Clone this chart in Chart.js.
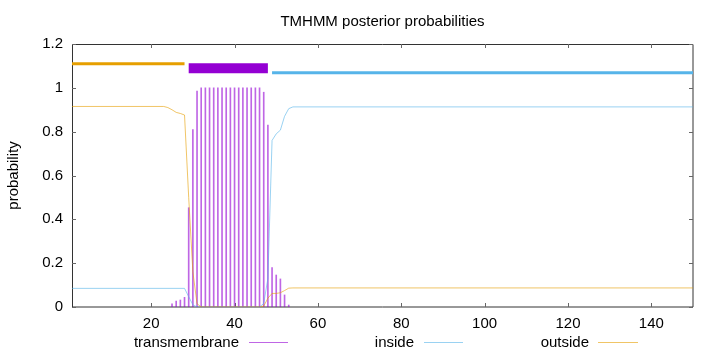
<!DOCTYPE html>
<html><head><meta charset="utf-8">
<script src="https://cdn.jsdelivr.net/npm/chart.js@4"></script>
<style>html,body{margin:0;padding:0;background:#fff}canvas{display:block}</style>
</head><body>
<canvas id="c" width="720" height="352"></canvas>
<script>
const chartTitle = 'TMHMM posterior probabilities';
const yAxisTitle = 'probability';
const xTickValues = [20, 40, 60, 80, 100, 120, 140];
const yTickValues = [0, 0.2, 0.4, 0.6, 0.8, 1, 1.2];
const yTickLabels = ['0', '0.2', '0.4', '0.6', '0.8', '1', '1.2'];
const seriesNames = ['transmembrane', 'inside', 'outside'];

const tmResidues = [25, 26, 27, 28, 29, 30, 31, 32, 33, 34, 35, 36, 37, 38, 39, 40, 41, 42, 43, 44, 45, 46, 47, 48, 49, 50, 51, 52, 53];
const tmProb =     [0.015, 0.027, 0.032, 0.044, 0.453, 0.81, 0.985, 1, 1, 1, 1, 1, 1, 1, 1, 1, 1, 1, 1, 1, 1, 1, 0.98, 0.83, 0.18, 0.146, 0.128, 0.055, 0.009];

const insideResidues = [1, 28, 29, 30, 31, 46, 47, 48, 49, 50, 51, 52, 53, 54, 150];
const insideProb =     [0.085, 0.085, 0.047, 0.01, 0, 0, 0.016, 0.13, 0.76, 0.79, 0.807, 0.87, 0.905, 0.913, 0.913];

const outsideResidues = [1, 23, 24, 25, 26, 27, 28, 29, 30, 31, 32, 46, 47, 48, 49, 50, 51, 52, 53, 54, 150];
const outsideProb =     [0.915, 0.915, 0.91, 0.9, 0.888, 0.883, 0.876, 0.5, 0.16, 0.015, 0, 0, 0.004, 0.04, 0.062, 0.062, 0.065, 0.075, 0.086, 0.087, 0.087];

const topologyNames = ['outside', 'TMhelix', 'inside'];
const topologyStart = [1, 29, 49];
const topologyEnd = [28, 48, 150];
const topologyLevel = [1.11, 1.089, 1.069];

const FONT = {family: '"Liberation Sans", Arial, sans-serif', size: 15, weight: 'normal'};
const TM_COLOR = 'rgba(148,0,211,0.6)';
const IN_COLOR = 'rgba(86,180,233,0.6)';
const OUT_COLOR = 'rgba(230,159,0,0.6)';
const topoColors = ['#e69f00', '#9400d3', '#56b4e9'];
const topoWidths = [3, 10, 3];

const pts = (xs, ys) => xs.map((x, i) => ({x: x, y: ys[i]}));

const datasets = [];
datasets.push({type: 'line', label: seriesNames[2], data: pts(outsideResidues, outsideProb), borderColor: OUT_COLOR, borderWidth: 1, pointRadius: 0, tension: 0, order: 0});
datasets.push({type: 'line', label: seriesNames[1], data: pts(insideResidues, insideProb), borderColor: IN_COLOR, borderWidth: 1, pointRadius: 0, tension: 0, order: 1});
datasets.push({type: 'bar', label: seriesNames[0], data: pts(tmResidues, tmProb), backgroundColor: TM_COLOR, borderWidth: 0, barThickness: 1, grouped: false, order: 2});
topologyNames.forEach((n, i) => {
  datasets.push({type: 'line', label: n, data: [{x: topologyStart[i], y: topologyLevel[i]}, {x: topologyEnd[i], y: topologyLevel[i]}],
    borderColor: topoColors[i], borderWidth: topoWidths[i], borderCapStyle: 'butt', pointRadius: 0, order: 3 + i, clip: false});
});

const legendItems = [
  {name: seriesNames[0], color: TM_COLOR, textRight: 239, x1: 249, x2: 288},
  {name: seriesNames[1], color: IN_COLOR, textRight: 414, x1: 424, x2: 463},
  {name: seriesNames[2], color: OUT_COLOR, textRight: 589, x1: 598, x2: 638}
];

const framePlugin = {
  id: 'frame',
  afterLayout(chart) {
    const t = chart.titleBlock;
    if (t) {
      t.left = chart.chartArea.left;
      t.right = chart.chartArea.right;
      t.width = t.right - t.left;
    }
  },
  beforeDatasetsDraw(chart) {
    const {ctx, chartArea: a, scales: {x, y}} = chart;
    ctx.save();
    ctx.strokeStyle = '#333';
    ctx.lineWidth = 1;
    ctx.beginPath();
    ctx.moveTo(a.left + 0.5, a.bottom);
    ctx.lineTo(a.left + 0.5, a.top + 0.5);
    ctx.lineTo(a.right, a.top + 0.5);
    ctx.lineTo(a.right, a.bottom);
    ctx.lineTo(a.left, a.bottom);
    ctx.stroke();
    ctx.strokeStyle = '#666';
    ctx.beginPath();
    xTickValues.forEach(v => {
      const px = Math.round(x.getPixelForValue(v)) + 0.5;
      ctx.moveTo(px, a.bottom); ctx.lineTo(px, a.bottom - 4);
      ctx.moveTo(px, a.top); ctx.lineTo(px, a.top + 4);
    });
    yTickValues.forEach(v => {
      const py = Math.round(y.getPixelForValue(v)) + 0.5;
      ctx.moveTo(a.left, py); ctx.lineTo(a.left + 4, py);
      ctx.moveTo(a.right, py); ctx.lineTo(a.right - 4, py);
    });
    ctx.stroke();
    ctx.restore();
  },
  afterDraw(chart) {
    const ctx = chart.ctx;
    ctx.save();
    ctx.font = '15px "Liberation Sans", Arial, sans-serif';
    ctx.fillStyle = '#000';
    ctx.textAlign = 'right';
    ctx.textBaseline = 'middle';
    legendItems.forEach(it => {
      ctx.fillText(it.name, it.textRight, 343);
      ctx.strokeStyle = it.color;
      ctx.lineWidth = 1;
      ctx.beginPath();
      ctx.moveTo(it.x1, 342.5); ctx.lineTo(it.x2, 342.5);
      ctx.stroke();
    });
    ctx.restore();
  }
};

new Chart(document.getElementById('c'), {
  type: 'line',
  data: {datasets: datasets},
  options: {
    responsive: false,
    animation: false,
    devicePixelRatio: 1,
    layout: {padding: {left: 0, right: 27, top: 0, bottom: 0}},
    plugins: {
      legend: {display: false},
      tooltip: {enabled: false},
      title: {display: true, text: chartTitle, color: '#000', font: FONT, padding: {top: 13, bottom: 13}}
    },
    scales: {
      x: {
        type: 'linear', min: 1, max: 150, offset: false,
        afterBuildTicks: s => { s.ticks = xTickValues.map(v => ({value: v})); },
        ticks: {callback: v => String(v), color: '#000', font: FONT, padding: 8, maxRotation: 0, autoSkip: false},
        grid: {display: false, drawTicks: false},
        border: {display: false},
        afterFit: s => { s.height = 45; }
      },
      y: {
        type: 'linear', min: 0, max: 1.2,
        afterBuildTicks: s => { s.ticks = yTickValues.map(v => ({value: v})); },
        ticks: {callback: v => yTickLabels[yTickValues.indexOf(v)], color: '#000', font: FONT, padding: 9, autoSkip: false},
        grid: {display: false, drawTicks: false},
        border: {display: false},
        title: {display: true, text: yAxisTitle, color: '#000', font: FONT, padding: {top: 5, bottom: 0}},
        afterFit: s => { s.width = 72; }
      }
    }
  },
  plugins: [framePlugin]
});
</script>
</body></html>
